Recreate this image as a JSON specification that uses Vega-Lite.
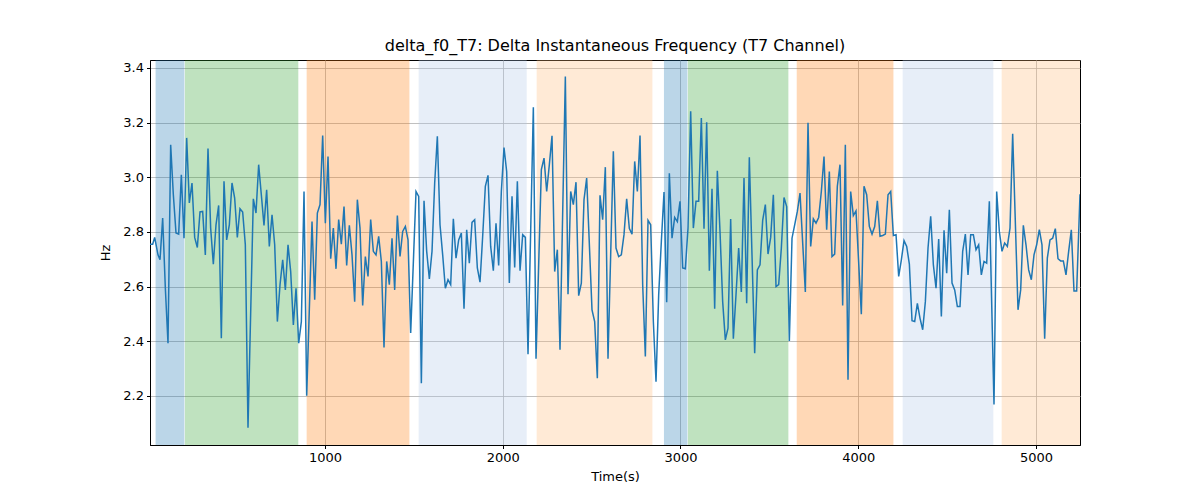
{
  "$schema": "https://vega.github.io/schema/vega-lite/v6.json",
  "autosize": "none",
  "width": 930,
  "height": 385,
  "padding": {"left": 150, "top": 60, "right": 120, "bottom": 55},
  "background": "white",
  "config": {
    "font": "DejaVu Sans",
    "view": {"stroke": "black", "strokeWidth": 1},
    "axis": {
      "zindex": 1,
      "domainColor": "black",
      "tickColor": "black",
      "tickSize": 3.5,
      "labelColor": "black",
      "labelFontSize": 13,
      "labelPadding": 3,
      "titleFontSize": 13,
      "titleFontWeight": "normal",
      "titleColor": "black",
      "gridColor": "#b0b0b0",
      "gridWidth": 0.8
    }
  },
  "title": {
    "text": "delta_f0_T7: Delta Instantaneous Frequency (T7 Channel)",
    "fontSize": 16,
    "fontWeight": "normal",
    "color": "black",
    "offset": 6
  },
  "datasets": {
    "spans": [
      {"start": 47, "end": 209, "phase": "a"},
      {"start": 212, "end": 850, "phase": "b"},
      {"start": 897, "end": 1475, "phase": "c"},
      {"start": 1527, "end": 2135, "phase": "d"},
      {"start": 2191, "end": 2842, "phase": "e"},
      {"start": 2907, "end": 3039, "phase": "a"},
      {"start": 3042, "end": 3607, "phase": "b"},
      {"start": 3654, "end": 4198, "phase": "c"},
      {"start": 4250, "end": 4760, "phase": "d"},
      {"start": 4807, "end": 5247.7, "phase": "e"}
    ],
    "series": [
      {"t": 15.6, "hz": 2.755}, {"t": 30.6, "hz": 2.755}, {"t": 41.9, "hz": 2.78}, {"t": 60.6, "hz": 2.716},
      {"t": 71.9, "hz": 2.698}, {"t": 86.9, "hz": 2.851}, {"t": 101.9, "hz": 2.594}, {"t": 116.9, "hz": 2.393},
      {"t": 131.9, "hz": 3.119}, {"t": 146.9, "hz": 2.936}, {"t": 161.9, "hz": 2.796}, {"t": 176.9, "hz": 2.792},
      {"t": 191.9, "hz": 3.009}, {"t": 206.9, "hz": 2.777}, {"t": 221.9, "hz": 3.144}, {"t": 236.9, "hz": 2.906},
      {"t": 251.9, "hz": 2.979}, {"t": 266.9, "hz": 2.78}, {"t": 281.9, "hz": 2.743}, {"t": 296.9, "hz": 2.873},
      {"t": 311.9, "hz": 2.875}, {"t": 326.9, "hz": 2.716}, {"t": 341.9, "hz": 3.105}, {"t": 356.9, "hz": 2.814},
      {"t": 371.9, "hz": 2.682}, {"t": 386.9, "hz": 2.826}, {"t": 401.9, "hz": 2.897}, {"t": 416.9, "hz": 2.411},
      {"t": 431.9, "hz": 2.985}, {"t": 446.9, "hz": 2.771}, {"t": 461.9, "hz": 2.826}, {"t": 476.9, "hz": 2.979},
      {"t": 491.9, "hz": 2.924}, {"t": 506.9, "hz": 2.78}, {"t": 521.9, "hz": 2.885}, {"t": 536.9, "hz": 2.873},
      {"t": 551.9, "hz": 2.753}, {"t": 566.9, "hz": 2.084}, {"t": 596.9, "hz": 2.921}, {"t": 611.9, "hz": 2.869},
      {"t": 626.9, "hz": 3.046}, {"t": 641.9, "hz": 2.936}, {"t": 656.9, "hz": 2.824}, {"t": 671.9, "hz": 2.954},
      {"t": 686.9, "hz": 2.747}, {"t": 702.1, "hz": 2.863}, {"t": 717.1, "hz": 2.753}, {"t": 732.1, "hz": 2.472},
      {"t": 747.1, "hz": 2.607}, {"t": 762.1, "hz": 2.698}, {"t": 777.1, "hz": 2.588}, {"t": 792.1, "hz": 2.753},
      {"t": 807.1, "hz": 2.655}, {"t": 822.1, "hz": 2.46}, {"t": 837.1, "hz": 2.594}, {"t": 852.1, "hz": 2.393},
      {"t": 867.1, "hz": 2.472}, {"t": 882.1, "hz": 2.948}, {"t": 897.1, "hz": 2.201}, {"t": 927.1, "hz": 2.838},
      {"t": 942.1, "hz": 2.552}, {"t": 957.1, "hz": 2.869}, {"t": 972.1, "hz": 2.9}, {"t": 987.1, "hz": 3.153},
      {"t": 1002.1, "hz": 2.832}, {"t": 1017.1, "hz": 3.076}, {"t": 1032.1, "hz": 2.702}, {"t": 1047.1, "hz": 2.814},
      {"t": 1062.1, "hz": 2.665}, {"t": 1077.1, "hz": 2.845}, {"t": 1092.1, "hz": 2.755}, {"t": 1107.1, "hz": 2.893},
      {"t": 1122.1, "hz": 2.677}, {"t": 1137.1, "hz": 2.824}, {"t": 1152.1, "hz": 2.716}, {"t": 1167.1, "hz": 2.545},
      {"t": 1182.1, "hz": 2.918}, {"t": 1197.1, "hz": 2.814}, {"t": 1212.1, "hz": 2.531}, {"t": 1227.1, "hz": 2.71},
      {"t": 1242.1, "hz": 2.637}, {"t": 1257.1, "hz": 2.845}, {"t": 1272.1, "hz": 2.729}, {"t": 1287.1, "hz": 2.716},
      {"t": 1302.1, "hz": 2.784}, {"t": 1317.1, "hz": 2.692}, {"t": 1332.1, "hz": 2.377}, {"t": 1347.1, "hz": 2.692},
      {"t": 1362.1, "hz": 2.607}, {"t": 1377.2, "hz": 2.777}, {"t": 1392.2, "hz": 2.588}, {"t": 1407.2, "hz": 2.86},
      {"t": 1422.2, "hz": 2.71}, {"t": 1437.2, "hz": 2.802}, {"t": 1452.2, "hz": 2.82}, {"t": 1467.2, "hz": 2.771},
      {"t": 1482.2, "hz": 2.43}, {"t": 1512.2, "hz": 2.948}, {"t": 1527.2, "hz": 2.93}, {"t": 1542.2, "hz": 2.246},
      {"t": 1557.2, "hz": 2.914}, {"t": 1572.2, "hz": 2.729}, {"t": 1587.2, "hz": 2.628}, {"t": 1602.2, "hz": 2.729},
      {"t": 1617.2, "hz": 2.979}, {"t": 1632.2, "hz": 3.15}, {"t": 1647.2, "hz": 2.826}, {"t": 1662.2, "hz": 2.716},
      {"t": 1677.2, "hz": 2.594}, {"t": 1692.2, "hz": 2.625}, {"t": 1707.2, "hz": 2.607}, {"t": 1722.2, "hz": 2.848},
      {"t": 1737.2, "hz": 2.704}, {"t": 1752.2, "hz": 2.771}, {"t": 1767.2, "hz": 2.796}, {"t": 1782.2, "hz": 2.519},
      {"t": 1797.2, "hz": 2.808}, {"t": 1812.2, "hz": 2.686}, {"t": 1827.2, "hz": 2.835}, {"t": 1842.2, "hz": 2.845},
      {"t": 1857.2, "hz": 2.668}, {"t": 1872.2, "hz": 2.616}, {"t": 1887.2, "hz": 2.784}, {"t": 1902.2, "hz": 2.967},
      {"t": 1917.2, "hz": 3.007}, {"t": 1932.2, "hz": 2.747}, {"t": 1947.2, "hz": 2.658}, {"t": 1962.2, "hz": 2.832},
      {"t": 1977.2, "hz": 2.677}, {"t": 1992.2, "hz": 2.948}, {"t": 2007.2, "hz": 3.109}, {"t": 2022.2, "hz": 3.021},
      {"t": 2037.2, "hz": 2.613}, {"t": 2052.3, "hz": 2.93}, {"t": 2067.3, "hz": 2.67}, {"t": 2082.3, "hz": 2.985},
      {"t": 2097.3, "hz": 2.658}, {"t": 2112.3, "hz": 2.79}, {"t": 2127.3, "hz": 2.78}, {"t": 2142.3, "hz": 2.353},
      {"t": 2172.3, "hz": 3.256}, {"t": 2187.3, "hz": 2.336}, {"t": 2217.3, "hz": 3.028}, {"t": 2232.3, "hz": 3.07},
      {"t": 2247.3, "hz": 2.948}, {"t": 2262.3, "hz": 3.046}, {"t": 2277.3, "hz": 3.152}, {"t": 2292.3, "hz": 2.655},
      {"t": 2307.3, "hz": 2.735}, {"t": 2322.3, "hz": 2.369}, {"t": 2352.3, "hz": 3.369}, {"t": 2367.3, "hz": 2.572},
      {"t": 2382.3, "hz": 2.948}, {"t": 2397.3, "hz": 2.9}, {"t": 2412.3, "hz": 2.982}, {"t": 2427.3, "hz": 2.567},
      {"t": 2442.3, "hz": 2.613}, {"t": 2457.3, "hz": 2.918}, {"t": 2472.3, "hz": 2.997}, {"t": 2502.3, "hz": 2.515},
      {"t": 2517.3, "hz": 2.472}, {"t": 2532.3, "hz": 2.265}, {"t": 2547.3, "hz": 2.934}, {"t": 2562.3, "hz": 2.845},
      {"t": 2577.3, "hz": 3.037}, {"t": 2592.3, "hz": 2.336}, {"t": 2622.3, "hz": 3.095}, {"t": 2637.3, "hz": 2.741},
      {"t": 2652.3, "hz": 2.71}, {"t": 2667.3, "hz": 2.716}, {"t": 2682.3, "hz": 2.79}, {"t": 2697.3, "hz": 2.921},
      {"t": 2712.4, "hz": 2.812}, {"t": 2727.4, "hz": 2.792}, {"t": 2742.4, "hz": 3.058}, {"t": 2757.4, "hz": 2.948},
      {"t": 2772.4, "hz": 3.153}, {"t": 2787.4, "hz": 2.607}, {"t": 2802.4, "hz": 2.344}, {"t": 2817.4, "hz": 2.842},
      {"t": 2832.4, "hz": 2.826}, {"t": 2847.4, "hz": 2.472}, {"t": 2862.4, "hz": 2.252}, {"t": 2877.4, "hz": 2.57},
      {"t": 2892.4, "hz": 2.765}, {"t": 2907.4, "hz": 2.946}, {"t": 2922.4, "hz": 2.543}, {"t": 2937.4, "hz": 3.015},
      {"t": 2952.4, "hz": 2.777}, {"t": 2967.4, "hz": 2.853}, {"t": 2982.4, "hz": 2.838}, {"t": 2997.4, "hz": 2.912},
      {"t": 3012.4, "hz": 2.668}, {"t": 3027.4, "hz": 2.665}, {"t": 3042.4, "hz": 2.814}, {"t": 3057.4, "hz": 3.241},
      {"t": 3072.4, "hz": 2.814}, {"t": 3087.4, "hz": 2.912}, {"t": 3102.4, "hz": 2.912}, {"t": 3117.4, "hz": 3.217},
      {"t": 3132.4, "hz": 2.812}, {"t": 3147.4, "hz": 3.201}, {"t": 3162.4, "hz": 2.658}, {"t": 3177.4, "hz": 2.958},
      {"t": 3192.4, "hz": 2.519}, {"t": 3207.4, "hz": 3.024}, {"t": 3222.4, "hz": 2.802}, {"t": 3237.4, "hz": 2.545},
      {"t": 3252.4, "hz": 2.405}, {"t": 3267.4, "hz": 2.448}, {"t": 3282.4, "hz": 2.847}, {"t": 3297.4, "hz": 2.409},
      {"t": 3312.4, "hz": 2.57}, {"t": 3327.4, "hz": 2.741}, {"t": 3342.4, "hz": 2.58}, {"t": 3357.4, "hz": 2.997},
      {"t": 3372.4, "hz": 2.539}, {"t": 3387.4, "hz": 3.073}, {"t": 3417.5, "hz": 2.356}, {"t": 3432.5, "hz": 2.661},
      {"t": 3447.5, "hz": 2.68}, {"t": 3462.5, "hz": 2.842}, {"t": 3477.5, "hz": 2.9}, {"t": 3492.5, "hz": 2.719},
      {"t": 3507.5, "hz": 2.78}, {"t": 3522.5, "hz": 2.936}, {"t": 3537.5, "hz": 2.6}, {"t": 3552.5, "hz": 2.607},
      {"t": 3567.5, "hz": 2.741}, {"t": 3582.5, "hz": 2.926}, {"t": 3597.5, "hz": 2.893}, {"t": 3612.5, "hz": 2.401},
      {"t": 3627.5, "hz": 2.777}, {"t": 3642.5, "hz": 2.826}, {"t": 3657.5, "hz": 2.875}, {"t": 3672.5, "hz": 2.942},
      {"t": 3702.5, "hz": 2.58}, {"t": 3717.5, "hz": 3.199}, {"t": 3732.5, "hz": 2.747}, {"t": 3747.5, "hz": 2.848},
      {"t": 3762.5, "hz": 2.832}, {"t": 3777.5, "hz": 2.853}, {"t": 3792.5, "hz": 2.948}, {"t": 3807.5, "hz": 3.076},
      {"t": 3822.5, "hz": 2.808}, {"t": 3837.5, "hz": 3.021}, {"t": 3852.5, "hz": 2.71}, {"t": 3867.5, "hz": 2.719},
      {"t": 3882.5, "hz": 2.967}, {"t": 3897.5, "hz": 3.046}, {"t": 3912.5, "hz": 2.531}, {"t": 3927.5, "hz": 3.119},
      {"t": 3942.5, "hz": 2.259}, {"t": 3957.5, "hz": 2.948}, {"t": 3972.5, "hz": 2.86}, {"t": 3987.5, "hz": 2.877},
      {"t": 4017.5, "hz": 2.499}, {"t": 4032.5, "hz": 2.967}, {"t": 4047.5, "hz": 2.936}, {"t": 4062.5, "hz": 2.82},
      {"t": 4077.7, "hz": 2.792}, {"t": 4092.7, "hz": 2.82}, {"t": 4107.7, "hz": 2.914}, {"t": 4122.7, "hz": 2.784},
      {"t": 4137.7, "hz": 2.787}, {"t": 4152.7, "hz": 2.792}, {"t": 4167.7, "hz": 2.936}, {"t": 4182.7, "hz": 2.948},
      {"t": 4197.7, "hz": 2.787}, {"t": 4212.7, "hz": 2.79}, {"t": 4227.7, "hz": 2.637}, {"t": 4242.7, "hz": 2.698},
      {"t": 4257.7, "hz": 2.768}, {"t": 4272.7, "hz": 2.747}, {"t": 4287.7, "hz": 2.682}, {"t": 4302.7, "hz": 2.475},
      {"t": 4317.7, "hz": 2.472}, {"t": 4332.7, "hz": 2.539}, {"t": 4347.7, "hz": 2.484}, {"t": 4362.7, "hz": 2.442},
      {"t": 4377.7, "hz": 2.545}, {"t": 4392.7, "hz": 2.741}, {"t": 4407.7, "hz": 2.857}, {"t": 4422.7, "hz": 2.68},
      {"t": 4437.7, "hz": 2.594}, {"t": 4452.7, "hz": 2.774}, {"t": 4467.7, "hz": 2.491}, {"t": 4482.7, "hz": 2.806},
      {"t": 4497.7, "hz": 2.649}, {"t": 4512.7, "hz": 2.881}, {"t": 4527.7, "hz": 2.613}, {"t": 4542.7, "hz": 2.588},
      {"t": 4557.7, "hz": 2.527}, {"t": 4572.7, "hz": 2.527}, {"t": 4587.7, "hz": 2.729}, {"t": 4602.7, "hz": 2.792},
      {"t": 4617.7, "hz": 2.643}, {"t": 4632.7, "hz": 2.79}, {"t": 4647.7, "hz": 2.79}, {"t": 4662.7, "hz": 2.735},
      {"t": 4677.7, "hz": 2.753}, {"t": 4692.7, "hz": 2.643}, {"t": 4707.7, "hz": 2.692}, {"t": 4722.7, "hz": 2.686},
      {"t": 4737.7, "hz": 2.912}, {"t": 4763.9, "hz": 2.169}, {"t": 4778.9, "hz": 2.948}, {"t": 4793.9, "hz": 2.802},
      {"t": 4808.9, "hz": 2.729}, {"t": 4823.9, "hz": 2.759}, {"t": 4838.9, "hz": 2.747}, {"t": 4853.9, "hz": 2.814},
      {"t": 4868.9, "hz": 3.159}, {"t": 4898.9, "hz": 2.515}, {"t": 4913.9, "hz": 2.588}, {"t": 4928.9, "hz": 2.824},
      {"t": 4943.9, "hz": 2.753}, {"t": 4958.9, "hz": 2.661}, {"t": 4973.9, "hz": 2.625}, {"t": 4988.9, "hz": 2.716},
      {"t": 5003.9, "hz": 2.753}, {"t": 5018.9, "hz": 2.808}, {"t": 5033.9, "hz": 2.753}, {"t": 5048.9, "hz": 2.409},
      {"t": 5063.9, "hz": 2.704}, {"t": 5078.9, "hz": 2.771}, {"t": 5093.9, "hz": 2.777}, {"t": 5108.9, "hz": 2.812},
      {"t": 5123.9, "hz": 2.702}, {"t": 5138.9, "hz": 2.694}, {"t": 5153.9, "hz": 2.694}, {"t": 5168.9, "hz": 2.643},
      {"t": 5183.9, "hz": 2.729}, {"t": 5198.9, "hz": 2.808}, {"t": 5213.9, "hz": 2.584}, {"t": 5228.9, "hz": 2.584},
      {"t": 5247.7, "hz": 2.938}
    ]
  },
  "layer": [
    {
      "data": {"name": "spans"},
      "mark": {"type": "rect", "opacity": 0.3, "clip": true},
      "encoding": {
        "x": {
          "field": "start",
          "type": "quantitative",
          "scale": {"domain": [15.6, 5247.7], "nice": false, "zero": false},
          "axis": {"title": "Time(s)", "values": [1000, 2000, 3000, 4000, 5000], "format": "d", "grid": true, "titlePadding": 6}
        },
        "x2": {"field": "end"},
        "color": {
          "field": "phase",
          "type": "nominal",
          "scale": {"domain": ["a", "b", "c", "d", "e"], "range": ["#1f77b4", "#2ca02c", "#ff7f0e", "#aec7e8", "#ffbb78"]},
          "legend": null
        }
      }
    },
    {
      "data": {"name": "series"},
      "mark": {"type": "line", "color": "#1f77b4", "strokeWidth": 1.5, "clip": true},
      "encoding": {
        "x": {"field": "t", "type": "quantitative"},
        "y": {
          "field": "hz",
          "type": "quantitative",
          "scale": {"domain": [2.0205, 3.429], "nice": false, "zero": false},
          "axis": {"title": "Hz", "values": [2.2, 2.4, 2.6, 2.8, 3.0, 3.2, 3.4], "format": ".1f", "grid": true, "titlePadding": 10}
        }
      }
    }
  ]
}
